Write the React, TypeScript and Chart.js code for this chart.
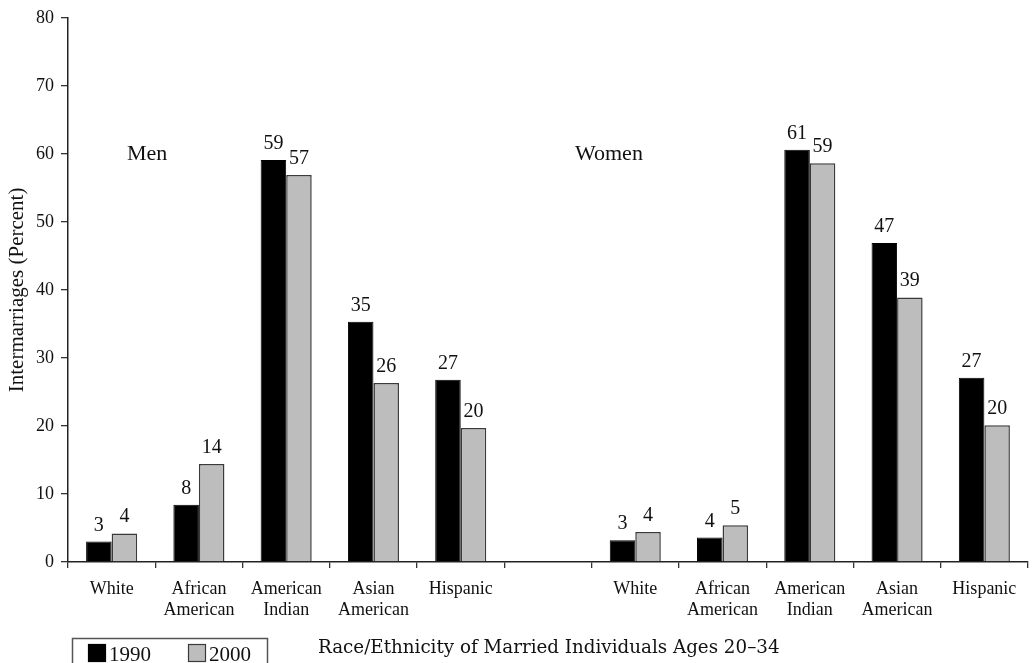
import React, { useEffect, useRef } from "react";
import { Chart, registerables } from "chart.js";

Chart.register(...registerables);

// Categories: men's group, an empty spacer slot, then women's group
const categories: (string | string[])[] = [
  ["White"],
  ["African", "American"],
  ["American", "Indian"],
  ["Asian", "American"],
  ["Hispanic"],
  "",
  ["White"],
  ["African", "American"],
  ["American", "Indian"],
  ["Asian", "American"],
  ["Hispanic"],
];

// Intermarriage rates (percent)
const values1990: (number | null)[] = [3.0, 8.4, 59.1, 35.3, 26.8, null, 3.2, 3.6, 60.6, 46.9, 27.1];
const values2000: (number | null)[] = [4.2, 14.4, 56.9, 26.3, 19.7, null, 4.4, 5.4, 58.6, 38.9, 20.1];

const seriesLabels = ["1990", "2000"];
const yTicks = [0, 10, 20, 30, 40, 50, 60, 70, 80];
const groupLabels = ["Men", "Women"];
const captionText = "Race/Ethnicity of Married Individuals Ages 20\u201334";
const yTitle = "Intermarriages (Percent)";

const SERIF = "'Liberation Serif', 'Times New Roman', serif";

const valueLabelsPlugin = {
  id: "valueLabels",
  afterDatasetsDraw(chart: any) {
    const { ctx } = chart;
    ctx.save();
    ctx.font = `20px ${SERIF}`;
    ctx.fillStyle = "#111";
    ctx.textAlign = "center";
    ctx.textBaseline = "alphabetic";
    chart.data.datasets.forEach((ds: any, di: number) => {
      const meta = chart.getDatasetMeta(di);
      meta.data.forEach((el: any, i: number) => {
        const v = ds.data[i];
        if (v == null) return;
        ctx.fillText(String(Math.round(v)), el.x, el.y - 11);
      });
    });
    ctx.restore();
  },
};

const annotationsPlugin = {
  id: "annotations",
  afterDraw(chart: any) {
    const { ctx, chartArea } = chart;
    ctx.save();
    // group headings
    ctx.font = `22px ${SERIF}`;
    ctx.fillStyle = "#111";
    ctx.textAlign = "left";
    ctx.textBaseline = "alphabetic";
    ctx.fillText(groupLabels[0], chartArea.left + 59, chartArea.top + 142);
    ctx.fillText(groupLabels[1], chartArea.left + 507, chartArea.top + 142);

    // legend box
    const bx = 72.5;
    const by = 638.5;
    ctx.strokeStyle = "#555";
    ctx.lineWidth = 1.5;
    ctx.strokeRect(bx, by, 195, 40);
    const ds = chart.data.datasets;
    const items = [
      { x: 88, label: seriesLabels[0], fill: ds[0].backgroundColor, border: ds[0].borderColor },
      { x: 188, label: seriesLabels[1], fill: ds[1].backgroundColor, border: ds[1].borderColor },
    ];
    ctx.font = `21px ${SERIF}`;
    items.forEach((it) => {
      ctx.fillStyle = it.fill;
      ctx.fillRect(it.x, 644, 18, 18);
      ctx.strokeStyle = it.border;
      ctx.lineWidth = 1.2;
      ctx.strokeRect(it.x + 0.5, 644.5, 17, 17);
      ctx.fillStyle = "#111";
      ctx.fillText(it.label, it.x + 21, 661);
    });

    // caption
    ctx.font = `18.3px 'DejaVu Serif', serif`;
    ctx.fillStyle = "#111";
    ctx.fillText(captionText, 318, 653);
    ctx.restore();
  },
};

export default function App() {
  const canvasRef = useRef<HTMLCanvasElement | null>(null);

  useEffect(() => {
    const canvas = canvasRef.current;
    if (!canvas) return;
    const chart = new Chart(canvas, {
      type: "bar",
      data: {
        labels: categories,
        datasets: [
          {
            label: seriesLabels[0],
            data: values1990,
            backgroundColor: "#000000",
            borderColor: "#000000",
            borderWidth: 1,
            categoryPercentage: 0.585,
            barPercentage: 1,
          },
          {
            label: seriesLabels[1],
            data: values2000,
            backgroundColor: "#bdbdbd",
            borderColor: "#3a3a3a",
            borderWidth: 1.5,
            categoryPercentage: 0.585,
            barPercentage: 1,
          },
        ],
      },
      options: {
        responsive: false,
        animation: false,
        devicePixelRatio: 1,
        layout: { padding: { top: 13, right: 7, left: 0, bottom: 0 } },
        plugins: {
          legend: { display: false },
          tooltip: { enabled: false },
        },
        scales: {
          x: {
            grid: {
              offset: true,
              drawOnChartArea: false,
              drawTicks: true,
              tickLength: 6,
              color: "#333",
              lineWidth: 1.3,
            },
            border: { display: true, color: "#222", width: 1.5 },
            ticks: {
              color: "#111",
              font: { family: SERIF, size: 18, lineHeight: 1.2 },
              padding: 10,
              maxRotation: 0,
              autoSkip: false,
            },
            afterFit(scale: any) {
              scale.height = 101;
            },
          },
          y: {
            min: 0,
            max: 80,
            afterBuildTicks(scale: any) {
              scale.ticks = yTicks.map((v) => ({ value: v }));
            },
            grid: {
              drawOnChartArea: false,
              drawTicks: true,
              tickLength: 7,
              color: "#333",
              lineWidth: 1.3,
            },
            border: { display: true, color: "#222", width: 1.5 },
            ticks: {
              color: "#111",
              font: { family: SERIF, size: 18 },
              padding: 7,
            },
            title: {
              display: true,
              text: yTitle,
              color: "#111",
              font: { family: SERIF, size: 21 },
              padding: { top: 5, bottom: 0 },
            },
            afterFit(scale: any) {
              scale.width = 68;
            },
          },
        },
      },
      plugins: [valueLabelsPlugin, annotationsPlugin],
    });
    return () => chart.destroy();
  }, []);

  return (
    <div style={{ position: "fixed", left: 0, top: 0, width: 1035, height: 663, background: "#fff" }}>
      <canvas ref={canvasRef} width={1035} height={663} style={{ display: "block", width: 1035, height: 663 }} />
    </div>
  );
}
